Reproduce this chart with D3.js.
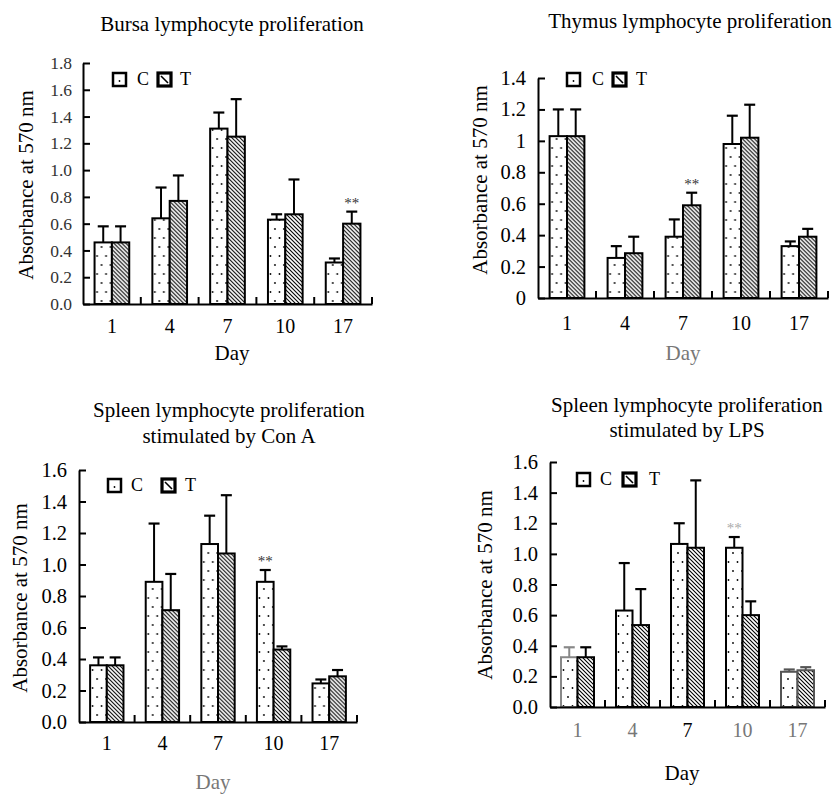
<!DOCTYPE html>
<html><head><meta charset="utf-8">
<script src="https://cdn.jsdelivr.net/npm/d3@7"></script>
<style>
body{margin:0;background:#fff}
</style>
</head><body>
<svg id="chart" width="838" height="796" style="font-family:'Liberation Serif','Times New Roman',Tinos,'DejaVu Serif',serif"></svg>
<script>
// ---------------- DATA ----------------
const days = ["1", "4", "7", "10", "17"];
const seriesNames = ["C", "T"];

// Bursa lymphocyte proliferation
const bursaC   = [0.46, 0.64, 1.31, 0.63, 0.31];
const bursaCsd = [0.12, 0.23, 0.12, 0.04, 0.03];
const bursaT   = [0.46, 0.77, 1.25, 0.67, 0.60];
const bursaTsd = [0.12, 0.19, 0.28, 0.26, 0.09];
const bursaSigC = ["", "", "", "", ""];
const bursaSigT = ["", "", "", "", "**"];
const bursaTicks = [0, 0.2, 0.4, 0.6, 0.8, 1.0, 1.2, 1.4, 1.6, 1.8];
const bursaTickLabels = ["0.0", "0.2", "0.4", "0.6", "0.8", "1.0", "1.2", "1.4", "1.6", "1.8"];

// Thymus lymphocyte proliferation
const thymusC   = [1.03, 0.255, 0.39, 0.98, 0.33];
const thymusCsd = [0.17, 0.075, 0.11, 0.18, 0.03];
const thymusT   = [1.03, 0.285, 0.59, 1.02, 0.39];
const thymusTsd = [0.17, 0.105, 0.08, 0.21, 0.05];
const thymusSigC = ["", "", "", "", ""];
const thymusSigT = ["", "", "**", "", ""];
const thymusTicks = [0, 0.2, 0.4, 0.6, 0.8, 1.0, 1.2, 1.4];
const thymusTickLabels = ["0", "0.2", "0.4", "0.6", "0.8", "1", "1.2", "1.4"];

// Spleen, Con A
const conaC   = [0.36, 0.89, 1.13, 0.89, 0.245];
const conaCsd = [0.05, 0.37, 0.18, 0.075, 0.025];
const conaT   = [0.36, 0.71, 1.07, 0.46, 0.29];
const conaTsd = [0.05, 0.23, 0.37, 0.02, 0.04];
const conaSigC = ["", "", "", "**", ""];
const conaSigT = ["", "", "", "", ""];
const spleenTicks = [0, 0.2, 0.4, 0.6, 0.8, 1.0, 1.2, 1.4, 1.6];
const spleenTickLabels = ["0.0", "0.2", "0.4", "0.6", "0.8", "1.0", "1.2", "1.4", "1.6"];

// Spleen, LPS
const lpsC   = [0.325, 0.63, 1.065, 1.04, 0.23];
const lpsCsd = [0.065, 0.31, 0.135, 0.07, 0.015];
const lpsT   = [0.325, 0.535, 1.04, 0.60, 0.24];
const lpsTsd = [0.065, 0.235, 0.44, 0.09, 0.02];
const lpsSigC = ["", "", "", "**", ""];
const lpsSigT = ["", "", "", "", ""];

const yTitle = "Absorbance at 570 nm";
const xTitle = "Day";

const FONT = "'Liberation Serif','Times New Roman',Tinos,'DejaVu Serif',serif";

// ---------------- LAYOUT ----------------
const panels = [
  { title: ["Bursa lymphocyte proliferation"], titleX: 232, titleY: [31],
    x0: 83, x1: 372, base: 304, top: 63, max: 1.8,
    ticks: bursaTicks, tickLabels: bursaTickLabels, tickFont: 17.5, tickPad: 11, tickColor: "#333",
    ylabX: 33, ylabY: 185, xTickY: 333, dayX: 232, dayY: 360, dayColor: "#000",
    xTickColor: () => "#000", barStroke: () => "#000",
    leg: { cx: 113, ty: 73, cT: 137, tx: 158, tT: 180 },
    C: bursaC, Csd: bursaCsd, T: bursaT, Tsd: bursaTsd, sigC: bursaSigC, sigT: bursaSigT, sigColor: "#333" },
  { title: ["Thymus lymphocyte proliferation"], titleX: 690, titleY: [28],
    x0: 538, x1: 828, base: 298, top: 78, max: 1.4,
    ticks: thymusTicks, tickLabels: thymusTickLabels, tickFont: 20.5, tickPad: 12, tickColor: "#000",
    ylabX: 487, ylabY: 180, xTickY: 330, dayX: 683, dayY: 360, dayColor: "#777",
    xTickColor: () => "#000", barStroke: () => "#000",
    leg: { cx: 567, ty: 73, cT: 592, tx: 613, tT: 636 },
    C: thymusC, Csd: thymusCsd, T: thymusT, Tsd: thymusTsd, sigC: thymusSigC, sigT: thymusSigT, sigColor: "#333" },
  { title: ["Spleen lymphocyte proliferation", "stimulated by Con A"], titleX: 229, titleY: [417, 443],
    x0: 79, x1: 357, base: 722, top: 470, max: 1.6,
    ticks: spleenTicks, tickLabels: spleenTickLabels, tickFont: 20.5, tickPad: 12, tickColor: "#000",
    ylabX: 27, ylabY: 598, xTickY: 750, dayX: 213, dayY: 789, dayColor: "#777",
    xTickColor: () => "#000", barStroke: () => "#000",
    leg: { cx: 108, ty: 479, cT: 131, tx: 162, tT: 185 },
    C: conaC, Csd: conaCsd, T: conaT, Tsd: conaTsd, sigC: conaSigC, sigT: conaSigT, sigColor: "#333" },
  { title: ["Spleen lymphocyte proliferation", "stimulated by LPS"], titleX: 687, titleY: [412, 437],
    x0: 550, x1: 825, base: 707, top: 462, max: 1.6,
    ticks: spleenTicks, tickLabels: spleenTickLabels, tickFont: 20.5, tickPad: 12, tickColor: "#000",
    ylabX: 492, ylabY: 585, xTickY: 737, dayX: 682, dayY: 780, dayColor: "#000",
    xTickColor: d => d === "7" ? "#000" : "#777",
    barStroke: (day, s) => day === "17" ? "#555" : (day === "1" && s === "C" ? "#888" : "#000"),
    leg: { cx: 577, ty: 473, cT: 600, tx: 623, tT: 649 },
    C: lpsC, Csd: lpsCsd, T: lpsT, Tsd: lpsTsd, sigC: lpsSigC, sigT: lpsSigT, sigColor: "#aaa" }
];

// ---------------- DRAW ----------------
const svg = d3.select("#chart");
const defs = svg.append("defs");

const dots = defs.append("pattern").attr("id", "dots")
  .attr("patternUnits", "userSpaceOnUse").attr("width", 9).attr("height", 18);
dots.append("rect").attr("width", 9).attr("height", 18).attr("fill", "#fff");
dots.append("circle").attr("cx", 2.5).attr("cy", 4).attr("r", 0.9).attr("fill", "#000");
dots.append("circle").attr("cx", 7).attr("cy", 13).attr("r", 0.9).attr("fill", "#000");

const hatch = defs.append("pattern").attr("id", "hatch")
  .attr("patternUnits", "userSpaceOnUse").attr("width", 4).attr("height", 4);
hatch.append("rect").attr("width", 4).attr("height", 4).attr("fill", "#fff");
hatch.append("path").attr("d", "M-1,-1L5,5M-1,3L1,5M3,-1L5,1")
  .attr("stroke", "#000").attr("stroke-width", 1.1);

const fills = { C: "url(#dots)", T: "url(#hatch)" };

function txt(sel) { return sel.style("font-family", FONT); }

panels.forEach(p => {
  const g = svg.append("g");
  const x = d3.scaleBand().domain(days).range([p.x0, p.x1]).paddingInner(0).paddingOuter(0);
  const xs = d3.scaleBand().domain(seriesNames).range([0, x.bandwidth() * 0.6]);
  const off = x.bandwidth() * 0.2;
  const y = d3.scaleLinear().domain([0, p.max]).range([p.base, p.top]);

  p.title.forEach((t, i) => {
    txt(g.append("text")).attr("x", p.titleX).attr("y", p.titleY[i])
      .attr("text-anchor", "middle").attr("font-size", 21).text(t);
  });

  const rows = days.map((d, i) => ({ day: d, i,
    vals: [
      { day: d, s: "C", v: p.C[i], sd: p.Csd[i], sig: p.sigC[i] },
      { day: d, s: "T", v: p.T[i], sd: p.Tsd[i], sig: p.sigT[i] }
    ] }));

  const grp = g.selectAll("g.day").data(rows).join("g")
    .attr("transform", d => `translate(${x(d.day) + off},0)`);

  const bar = grp.selectAll("g.bar").data(d => d.vals).join("g");
  bar.append("rect")
    .attr("x", d => xs(d.s)).attr("width", xs.bandwidth())
    .attr("y", d => y(d.v)).attr("height", d => y(0) - y(d.v))
    .attr("fill", d => fills[d.s]).attr("stroke", d => p.barStroke(d.day, d.s)).attr("stroke-width", 2);
  bar.append("line")
    .attr("x1", d => xs(d.s) + xs.bandwidth() / 2).attr("x2", d => xs(d.s) + xs.bandwidth() / 2)
    .attr("y1", d => y(d.v)).attr("y2", d => y(d.v + d.sd))
    .attr("stroke", d => p.barStroke(d.day, d.s)).attr("stroke-width", 2);
  bar.append("line")
    .attr("x1", d => xs(d.s) + xs.bandwidth() / 2 - 5.5).attr("x2", d => xs(d.s) + xs.bandwidth() / 2 + 5.5)
    .attr("y1", d => y(d.v + d.sd)).attr("y2", d => y(d.v + d.sd))
    .attr("stroke", d => p.barStroke(d.day, d.s)).attr("stroke-width", 2.2);
  txt(bar.filter(d => d.sig).append("text"))
    .attr("x", d => xs(d.s) + xs.bandwidth() / 2).attr("y", d => y(d.v + d.sd) - 4)
    .attr("text-anchor", "middle").attr("font-size", 15)
    .style("fill", p.sigColor).text(d => d.sig);

  // y axis
  const ya = g.append("g").attr("transform", `translate(${p.x0},0)`)
    .call(d3.axisLeft(y).tickValues(p.ticks).tickFormat((d, i) => p.tickLabels[i])
      .tickSizeInner(-7).tickSizeOuter(0).tickPadding(p.tickPad));
  ya.attr("font-family", null);
  ya.select(".domain").attr("stroke-width", 2);
  ya.selectAll(".tick line").attr("stroke-width", 2);
  txt(ya.selectAll(".tick text")).attr("font-size", p.tickFont).style("fill", p.tickColor);

  // x axis
  const xa = g.append("g").attr("transform", `translate(0,${p.base})`)
    .call(d3.axisBottom(x).tickSize(0).tickPadding(0));
  xa.attr("font-family", null);
  xa.select(".domain").attr("stroke-width", 2);
  txt(xa.selectAll(".tick text")).attr("font-size", 20)
    .attr("dy", 0).attr("y", p.xTickY - p.base).style("fill", d => p.xTickColor(d));
  const seps = days.map(d => x(d) + x.step());
  xa.selectAll("line.sep").data(seps).join("line").attr("class", "sep")
    .attr("x1", d => d).attr("x2", d => d).attr("y1", 0).attr("y2", -7)
    .attr("stroke", "#000").attr("stroke-width", 2);

  // axis titles
  txt(g.append("text")).attr("transform", `translate(${p.ylabX},${p.ylabY}) rotate(-90)`)
    .attr("text-anchor", "middle").attr("font-size", 21).text(yTitle);
  txt(g.append("text")).attr("x", p.dayX).attr("y", p.dayY)
    .attr("text-anchor", "middle").attr("font-size", 21).style("fill", p.dayColor).text(xTitle);

  // legend
  const L = p.leg, bs = 13;
  const lc = g.append("g");
  lc.append("rect").attr("x", L.cx).attr("y", L.ty).attr("width", bs).attr("height", bs)
    .attr("fill", "#fff").attr("stroke", "#000").attr("stroke-width", 2.5);
  lc.append("circle").attr("cx", L.cx + bs / 2).attr("cy", L.ty + bs / 2 + 1.5).attr("r", 0.9).attr("fill", "#000");
  txt(lc.append("text")).attr("x", L.cT).attr("y", L.ty + 12).attr("font-size", 18).text(seriesNames[0]);
  lc.append("rect").attr("x", L.tx).attr("y", L.ty).attr("width", bs).attr("height", bs)
    .attr("fill", "#fff").attr("stroke", "#000").attr("stroke-width", 3.2);
  lc.append("line").attr("x1", L.tx + 3).attr("y1", L.ty + 3).attr("x2", L.tx + bs - 3).attr("y2", L.ty + bs - 3)
    .attr("stroke", "#000").attr("stroke-width", 1.6);
  txt(lc.append("text")).attr("x", L.tT).attr("y", L.ty + 12).attr("font-size", 18).text(seriesNames[1]);
});
</script>
</body></html>
